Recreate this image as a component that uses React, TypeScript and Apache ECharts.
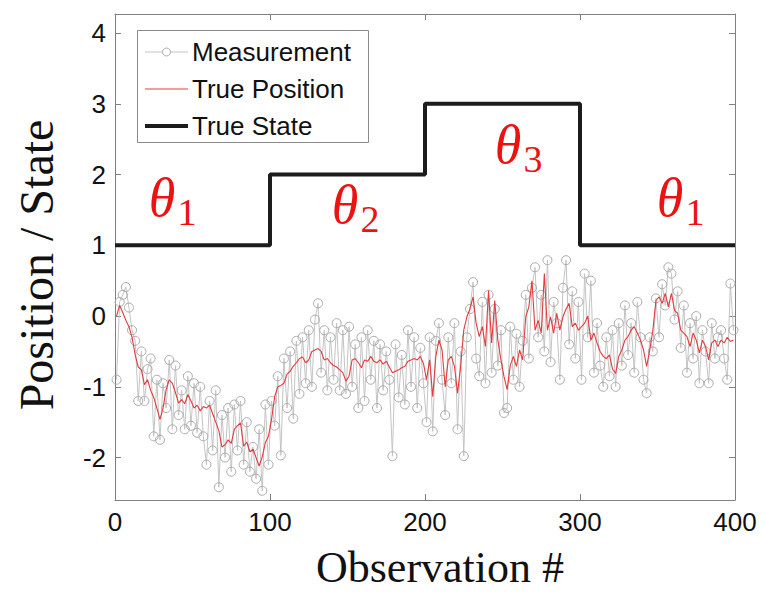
import React, { useEffect, useRef } from "react";
import * as echarts from "echarts";

// True position (red), sampled at observations 1,3,5,...,399
const truePosition = [
  0.0, 0.15, 0.05, -0.06, -0.15, -0.3, -0.55, -0.72, -0.76, -0.97,
  -0.9, -1.05, -1.15, -1.3, -1.46, -1.3, -1.04, -0.9, -0.95, -1.08,
  -1.23, -1.18, -1.24, -1.11, -1.2, -1.3, -1.26, -1.34, -1.28, -1.3,
  -1.26, -1.38, -1.5, -1.62, -1.85, -1.82, -1.75, -1.8, -1.6, -1.55,
  -1.51, -1.84, -1.78, -1.92, -1.88, -2.0, -2.12, -1.99, -1.79, -1.7,
  -1.46, -1.14, -1.0, -0.98, -0.95, -0.82, -0.78, -0.71, -0.66, -0.6,
  -0.58, -0.66, -0.62, -0.5, -0.48, -0.46, -0.5, -0.62, -0.6, -0.66,
  -0.7, -0.72, -0.76, -0.8, -0.92, -0.85, -0.62, -0.6, -0.66, -0.73,
  -0.62, -0.64, -0.57, -0.64, -0.66, -0.62, -0.68, -0.64, -0.72, -0.8,
  -0.78, -0.76, -0.73, -0.71, -0.64, -0.62, -0.6, -0.62, -0.57, -0.67,
  -0.9, -0.62, -1.14, -0.57, -0.34, -0.48, -1.0, -0.62, -0.57, -0.71,
  -1.09, -0.71, -0.2, -0.01, 0.1, 0.27, -0.1, -0.29, -0.15, -0.43,
  0.36, -0.38, 0.22, -0.34, -0.62, -0.86, -1.04, -0.7, -0.57, -0.71,
  -0.48, -0.62, -0.01, 0.13, 0.5, -0.2, -0.06, -0.24, 0.6, -0.2,
  -0.01, -0.24, 0.04, -0.2, -0.01, 0.1, 0.18, -0.15, -0.1, -0.2,
  -0.15, -0.1, 0.0, -0.34, -0.24, -0.38, -0.5, -0.57, -0.6, -0.55,
  -0.75, -0.81, -0.57, -0.48, -0.34, -0.29, -0.2, -0.15, -0.24, -0.34,
  -0.48, -0.71, -0.48, -0.2, 0.22, 0.27, 0.18, 0.32, 0.13, 0.32,
  0.08, 0.04, -0.2, -0.24, -0.29, -0.43, -0.24, -0.34, -0.52, -0.34,
  -0.43, -0.62, -0.38, -0.34, -0.43, -0.34, -0.38, -0.3, -0.36, -0.34,
];

// Noisy measurements (grey circles), same observations
const measurement = [
  -0.9, 0.2, 0.3, 0.41, 0.12, -0.2, -0.35, -1.2, -0.5, -1.2,
  -0.75, -0.6, -1.7, -0.9, -1.75, -0.95, -1.3, -0.62, -1.6, -0.7,
  -1.4, -1.05, -1.6, -0.85, -1.55, -0.95, -1.65, -1.0, -1.7, -2.1,
  -1.2, -1.9, -1.05, -2.42, -1.4, -2.0, -1.3, -2.2, -1.25, -1.9,
  -1.2, -2.1, -1.5, -2.2, -1.85, -2.3, -1.6, -2.47, -1.25, -2.1,
  -1.2, -1.55, -0.85, -1.97, -0.6, -1.3, -0.5, -1.45, -0.35, -1.1,
  -0.3, -0.95, -0.2, -1.0, -0.05, 0.18, -0.8, -0.2, -1.05, -0.3,
  -0.9, -0.1, -1.05, -0.2, -1.1, -0.15, -1.0, -0.4, -1.3, -0.3,
  -1.2, -0.2, -0.9, -0.35, -1.3, -0.4, -1.05, -0.5, -0.9, -1.98,
  -0.4, -1.15, -0.55, -1.25, -0.2, -1.0, -0.3, -1.3, -0.45, -0.95,
  -1.5, -0.3, -1.63, -0.35, -0.1, -0.9, -1.4, -0.3, -0.95, -0.1,
  -1.6, -0.5, -1.98, -0.3, 0.1, 0.48, -0.6, -0.85, 0.2, -0.95,
  0.3, -0.8, 0.1, -0.7, -0.2, -1.37, -1.3, -0.15, -0.9, -0.25,
  -1.0, -0.35, 0.3, -0.6, 0.4, 0.69, -0.3, 0.3, -0.5, 0.79,
  -0.65, 0.2, -0.1, -0.9, 0.4, 0.79, -0.4, 0.35, -0.6, 0.2,
  -0.9, 0.6, -0.3, 0.5, -0.8, -0.1, -0.7, -1.0, -0.3, -0.85,
  -0.2, -1.0, -0.1, -0.7, 0.15, -0.55, -0.1, -0.8, 0.2, -0.3,
  -0.9, -1.09, -0.3, -0.5, 0.25, -0.3, 0.45, 0.15, 0.69, 0.6,
  -0.05, 0.35, -0.45, 0.15, -0.8, -0.1, -0.6, 0.0, -0.95, -0.2,
  -0.5, -0.95, -0.1, -0.6, -0.3, -0.2, -0.6, -0.9, 0.46, -0.2,
];

// True state step function
const stateX = [0, 100, 100, 200, 200, 300, 300, 400];
const stateY = [1, 1, 2, 2, 3, 3, 1, 1];

const xTicks = [0, 100, 200, 300, 400];
const yTicks = [-2, -1, 0, 1, 2, 3, 4];
const seriesNames = ["Measurement", "True Position", "True State"];
const regimeSubscripts = ["1", "2", "3", "1"];
const xTitle = "Observation #";
const yTitle = "Position / State";

const COL_MEAS_LINE = "#c4c4c4";
const COL_MEAS_SYM = "#ababab";
const COL_TRUE = "#e53a3e";
const COL_STATE = "#1c1c1c";
const COL_AXIS = "#808080";

export default function App() {
  const ref = useRef<HTMLDivElement>(null);

  useEffect(() => {
    if (!ref.current) return;
    const chart = echarts.init(ref.current, null, { renderer: "svg" });

    const obs = truePosition.map((_, i) => 2 * i + 1);
    const measData = obs.map((x, i) => [x, measurement[i]]);
    const trueData = obs.map((x, i) => [x, truePosition[i]]);
    const stateData = stateX.map((x, i) => [x, stateY[i]]);

    const tickFont = { fontFamily: "Liberation Sans, Arial, sans-serif", fontSize: 26, color: "#111" };

    const baseX = {
      type: "value" as const,
      min: xTicks[0],
      max: xTicks[xTicks.length - 1],
      interval: 100,
      splitLine: { show: false },
      axisLine: { show: true, onZero: false, lineStyle: { color: COL_AXIS, width: 1 } },
      axisTick: { show: true, inside: true, length: 6, lineStyle: { color: COL_AXIS } },
    };
    const baseY = {
      type: "value" as const,
      min: -2.6,
      max: 4.27,
      splitLine: { show: false },
      axisLine: { show: true, onZero: false, lineStyle: { color: COL_AXIS, width: 1 } },
      axisTick: { show: true, inside: true, length: 6, customValues: yTicks, lineStyle: { color: COL_AXIS } },
    };

    // theta annotation positions (pixels)
    const thetaPos = [
      [162, 198],
      [345, 205],
      [508, 145],
      [670, 198],
    ];

    const thetaGraphics: any[] = [];
    thetaPos.forEach((p, i) => {
      thetaGraphics.push({
        type: "text",
        x: p[0],
        y: p[1],
        style: {
          text: "θ",
          fontFamily: "Liberation Serif, serif",
          fontStyle: "italic",
          fontSize: 54,
          fill: "#ee1111",
          align: "center",
          verticalAlign: "middle",
        },
        z: 100,
      });
      thetaGraphics.push({
        type: "text",
        x: p[0] + 25,
        y: p[1] + 14,
        style: {
          text: regimeSubscripts[i],
          fontFamily: "Liberation Serif, serif",
          fontSize: 38,
          fill: "#ee1111",
          align: "center",
          verticalAlign: "middle",
        },
        z: 100,
      });
    });

    const legendFont = { fontFamily: "Liberation Sans, Arial, sans-serif", fontSize: 26, fill: "#111" };
    const legendRows = [52, 89, 126];
    const legendGraphics: any[] = [
      {
        type: "rect",
        shape: { x: 137.5, y: 30.5, width: 231, height: 112 },
        style: { fill: "#fff", stroke: "#8a8a8a", lineWidth: 1 },
        z: 50,
      },
      {
        type: "line",
        shape: { x1: 145, y1: legendRows[0], x2: 188, y2: legendRows[0] },
        style: { stroke: COL_MEAS_LINE, lineWidth: 1 },
        z: 51,
      },
      {
        type: "circle",
        shape: { cx: 166.5, cy: legendRows[0], r: 4 },
        style: { fill: "#fff", stroke: COL_MEAS_SYM, lineWidth: 1 },
        z: 52,
      },
      {
        type: "line",
        shape: { x1: 145, y1: legendRows[1], x2: 188, y2: legendRows[1] },
        style: { stroke: COL_TRUE, lineWidth: 1.2 },
        z: 51,
      },
      {
        type: "line",
        shape: { x1: 145, y1: legendRows[2], x2: 188, y2: legendRows[2] },
        style: { stroke: COL_STATE, lineWidth: 4 },
        z: 51,
      },
      ...seriesNames.map((name, i) => ({
        type: "text",
        x: 192,
        y: legendRows[i],
        style: { text: name, ...legendFont, align: "left", verticalAlign: "middle" },
        z: 52,
      })),
    ];

    const option: any = {
      animation: false,
      backgroundColor: "#fff",
      grid: { left: 115, right: 31, top: 14, bottom: 95, containLabel: false },
      xAxis: [
        {
          ...baseX,
          position: "bottom",
          axisLabel: { show: true, margin: 9, ...tickFont },
        },
        {
          ...baseX,
          position: "top",
          axisLabel: { show: false },
        },
      ],
      yAxis: [
        {
          ...baseY,
          position: "left",
          axisLabel: { show: true, margin: 9, customValues: yTicks, ...tickFont },
        },
        {
          ...baseY,
          position: "right",
          axisLabel: { show: false },
        },
      ],
      series: [
        {
          name: seriesNames[0],
          type: "line",
          data: measData,
          xAxisIndex: 0,
          yAxisIndex: 0,
          symbol: "circle",
          symbolSize: 9,
          showSymbol: true,
          showAllSymbol: true,
          lineStyle: { color: COL_MEAS_LINE, width: 1 },
          itemStyle: { color: "rgba(255,255,255,0)", borderColor: COL_MEAS_SYM, borderWidth: 1 },
          z: 2,
          silent: true,
        },
        {
          name: seriesNames[1],
          type: "line",
          data: trueData,
          showSymbol: false,
          lineStyle: { color: COL_TRUE, width: 1.1 },
          z: 3,
          silent: true,
        },
        {
          name: seriesNames[2],
          type: "line",
          data: stateData,
          showSymbol: false,
          lineStyle: { color: COL_STATE, width: 4 },
          z: 4,
          silent: true,
        },
      ],
      graphic: [
        ...thetaGraphics,
        ...legendGraphics,
        {
          type: "text",
          x: 440,
          y: 567,
          style: {
            text: xTitle,
            fontFamily: "Liberation Serif, serif",
            fontSize: 44,
            fill: "#111",
            align: "center",
            verticalAlign: "middle",
          },
        },
        {
          type: "text",
          x: 36,
          y: 265,
          rotation: Math.PI / 2,
          style: {
            text: yTitle,
            fontFamily: "Liberation Serif, serif",
            fontSize: 48,
            fill: "#111",
            align: "center",
            verticalAlign: "middle",
          },
        },
      ],
    };

    chart.setOption(option);
    return () => chart.dispose();
  }, []);

  return (
    <div
      ref={ref}
      style={{ position: "absolute", left: 0, top: 0, width: 766, height: 595 }}
    />
  );
}
